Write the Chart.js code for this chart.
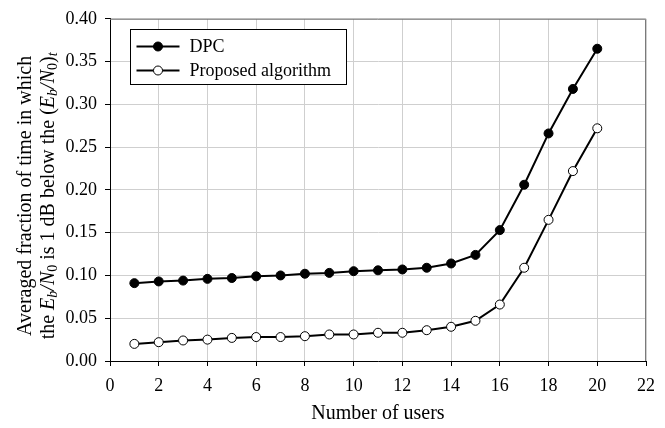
<!DOCTYPE html>
<html>
<head>
<meta charset="utf-8">
<script src="https://cdn.jsdelivr.net/npm/chart.js@4/dist/chart.umd.min.js"></script>
<style>
  html, body { margin: 0; padding: 0; background: #fff; }
  #wrap { width: 665px; height: 428px; }
</style>
</head>
<body>
<div id="wrap"><canvas id="chart" width="665" height="428"></canvas></div>
<script>
var users = [1, 2, 3, 4, 5, 6, 7, 8, 9, 10, 11, 12, 13, 14, 15, 16, 17, 18, 19, 20];
var dpcValues = [0.091, 0.093, 0.094, 0.096, 0.097, 0.099, 0.100, 0.102, 0.103, 0.105,
  0.106, 0.107, 0.109, 0.114, 0.124, 0.153, 0.206, 0.266, 0.318, 0.365];
var proposedValues = [0.020, 0.022, 0.024, 0.025, 0.027, 0.028, 0.028, 0.029, 0.031, 0.031,
  0.033, 0.033, 0.036, 0.040, 0.047, 0.066, 0.109, 0.165, 0.222, 0.272];
var xTicks = [0, 2, 4, 6, 8, 10, 12, 14, 16, 18, 20, 22];
var seriesNames = ["DPC", "Proposed algorithm"];

var serif = "'Liberation Serif', 'Times New Roman', serif";

function toPoints(xs, ys) {
  var pts = [];
  for (var i = 0; i < xs.length; i++) pts.push({ x: xs[i], y: ys[i] });
  return pts;
}

// draw a line of text made of segments (italic / subscript) rotated -90deg
function drawRich(ctx, segs, cx, cy, size) {
  ctx.save();
  ctx.translate(cx, cy);
  ctx.rotate(-Math.PI / 2);
  ctx.textBaseline = "alphabetic";
  ctx.fillStyle = "#000";
  var total = 0;
  segs.forEach(function (s) {
    var fs = s.sub ? Math.round(size * 0.7) : size;
    ctx.font = (s.it ? "italic " : "") + fs + "px " + serif;
    s.w = ctx.measureText(s.t).width;
    total += s.w;
  });
  var x = -total / 2;
  segs.forEach(function (s) {
    var fs = s.sub ? Math.round(size * 0.7) : size;
    ctx.font = (s.it ? "italic " : "") + fs + "px " + serif;
    ctx.fillText(s.t, x, s.sub ? size * 0.35 + 3 : size * 0.35);
    x += s.w;
  });
  ctx.restore();
}

var extras = {
  id: "extras",
  afterDraw: function (chart) {
    var ctx = chart.ctx;
    var a = chart.chartArea;
    // top and right frame
    ctx.save();
    ctx.strokeStyle = "#7a7a7a";
    ctx.lineWidth = 1;
    ctx.beginPath();
    ctx.moveTo(a.left, a.top + 0.5);
    ctx.lineTo(a.right - 0.5, a.top + 0.5);
    ctx.lineTo(a.right - 0.5, a.bottom);
    ctx.stroke();
    ctx.restore();

    // y axis title, two lines
    var midY = (a.top + a.bottom) / 2 + 6;
    drawRich(ctx, [{ t: "Averaged fraction of time in which" }], 24, midY, 20);
    drawRich(ctx, [
      { t: "the " },
      { t: "E", it: true }, { t: "b", it: true, sub: true },
      { t: "/", it: true }, { t: "N", it: true }, { t: "0", sub: true },
      { t: " is 1 dB below the (" },
      { t: "E", it: true }, { t: "b", it: true, sub: true },
      { t: "/", it: true }, { t: "N", it: true }, { t: "0", sub: true },
      { t: ")" }, { t: "t", it: true, sub: true }
    ], 47, midY, 20);

    // legend box
    var bx = 130.5, by = 29.5, bw = 216, bh = 55;
    ctx.save();
    ctx.fillStyle = "#fff";
    ctx.fillRect(bx, by, bw, bh);
    ctx.strokeStyle = "#000";
    ctx.lineWidth = 1;
    ctx.strokeRect(bx, by, bw, bh);
    chart.data.datasets.forEach(function (ds, i) {
      var y = by + 17 + i * 24;
      ctx.strokeStyle = "#000";
      ctx.lineWidth = 2;
      ctx.beginPath();
      ctx.moveTo(bx + 6, y);
      ctx.lineTo(bx + 49, y);
      ctx.stroke();
      ctx.beginPath();
      ctx.arc(bx + 27.5, y, 4.5, 0, Math.PI * 2);
      ctx.fillStyle = ds.pointBackgroundColor;
      ctx.fill();
      ctx.lineWidth = 1;
      ctx.stroke();
      ctx.fillStyle = "#000";
      ctx.font = "18px " + serif;
      ctx.textBaseline = "middle";
      ctx.fillText(ds.label, bx + 59, y + 1);
    });
    ctx.restore();
  }
};

new Chart(document.getElementById("chart"), {
  type: "line",
  data: {
    datasets: [
      {
        label: seriesNames[0],
        data: toPoints(users, dpcValues),
        borderColor: "#000",
        borderWidth: 2,
        pointRadius: 4.5,
        pointBackgroundColor: "#000",
        pointBorderColor: "#000",
        pointBorderWidth: 1,
        tension: 0
      },
      {
        label: seriesNames[1],
        data: toPoints(users, proposedValues),
        borderColor: "#000",
        borderWidth: 2,
        pointRadius: 4.5,
        pointBackgroundColor: "#fff",
        pointBorderColor: "#000",
        pointBorderWidth: 1,
        tension: 0
      }
    ]
  },
  options: {
    responsive: false,
    animation: false,
    layout: { padding: { left: 0, right: 19, top: 13, bottom: 2 } },
    plugins: {
      legend: { display: false },
      tooltip: { enabled: false }
    },
    scales: {
      x: {
        type: "linear",
        min: 0,
        max: 22,
        afterBuildTicks: function (scale) {
          scale.ticks = xTicks.map(function (v) { return { value: v }; });
        },
        afterFit: function (scale) { scale.height = 65; },
        grid: { color: "#cfcfcf", lineWidth: 1, tickLength: 5, tickColor: "#000", drawTicks: true },
        border: { color: "#000", width: 1 },
        ticks: { color: "#000", font: { family: serif, size: 18 }, padding: 9, maxRotation: 0 },
        title: {
          display: true,
          text: "Number of users",
          color: "#000",
          font: { family: serif, size: 20 },
          padding: { top: 4, bottom: 0 }
        }
      },
      y: {
        min: 0,
        max: 0.4,
        afterFit: function (scale) { scale.width = 110; },
        grid: { color: "#cfcfcf", lineWidth: 1, tickLength: 5, tickColor: "#000", drawTicks: true },
        border: { color: "#000", width: 1 },
        ticks: {
          stepSize: 0.05,
          color: "#000",
          font: { family: serif, size: 18 },
          padding: 8,
          callback: function (v) { return v.toFixed(2); }
        }
      }
    }
  },
  plugins: [extras]
});
</script>
</body>
</html>
